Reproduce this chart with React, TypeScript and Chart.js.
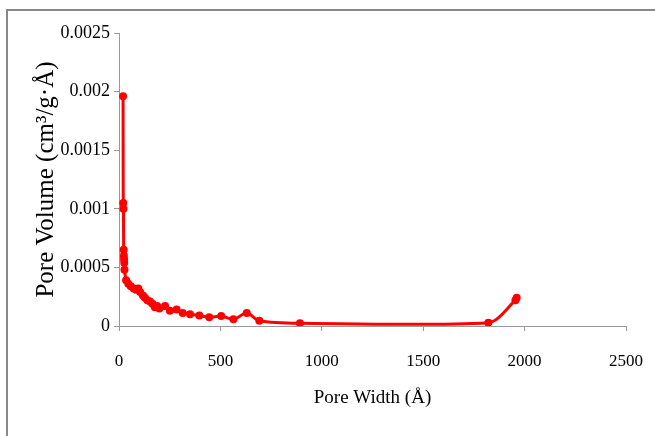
import React, { useEffect, useRef } from "react";
import { Chart, registerables } from "chart.js";

Chart.register(...registerables);

const poreWidth = [20, 21, 22, 23, 24, 25, 26, 27, 35, 46, 58, 72, 84, 95, 104, 118, 128, 140, 153, 165, 177, 188, 199, 227, 251, 284, 314, 350, 396, 445, 504, 564, 630, 692, 892, 1821, 1955, 1961];
const poreVolume = [0.00196, 0.00105, 0.001, 0.00065, 0.0006, 0.00057, 0.00054, 0.00048, 0.00039, 0.00036, 0.00034, 0.00032, 0.00031, 0.00032, 0.00029, 0.00026, 0.00024, 0.00022, 0.00021, 0.00019, 0.00016, 0.00017, 0.00015, 0.00017, 0.00013, 0.00014, 0.00011, 0.0001, 0.00009, 0.000074, 0.000085, 0.000057, 0.00011, 0.000045, 0.000023, 0.000028, 0.00022, 0.00024];

const xTitle = "Pore Width (Å)";
const yTitle = "Pore Volume (cm³/g·Å)";

export default function App() {
  const ref = useRef<HTMLCanvasElement | null>(null);

  useEffect(() => {
    if (!ref.current) return;
    const font = "'Liberation Serif', 'Times New Roman', serif";
    const chart = new Chart(ref.current, {
      type: "line",
      data: {
        datasets: [
          {
            data: poreWidth.map((x, i) => ({ x, y: poreVolume[i] })),
            borderColor: "#ff0000",
            backgroundColor: "#ff0000",
            borderWidth: 3,
            pointRadius: 4,
            pointBorderWidth: 0,
            pointBackgroundColor: "#ff0000",
            tension: 0.3,
            fill: false,
          },
        ],
      },
      options: {
        responsive: false,
        animation: false,
        layout: { padding: { top: 33, right: 29, left: 0, bottom: 0 } },
        plugins: { legend: { display: false }, tooltip: { enabled: false } },
        scales: {
          x: {
            type: "linear",
            min: 0,
            max: 2500,
            afterFit: (s: any) => {
              s.height = 110;
              s.paddingRight = 0;
              s.paddingLeft = 0;
            },
            ticks: {
              stepSize: 500,
              padding: 20,
              color: "#000",
              font: { family: font, size: 17 },
              callback: (v: any) => String(v),
            },
            grid: { drawOnChartArea: false, drawTicks: true, tickLength: 5, color: "#999" },
            border: { color: "#999", width: 1 },
            title: { display: true, text: xTitle, color: "#000", font: { family: font, size: 19 }, padding: { top: 0, bottom: 27 } },
          },
          y: {
            type: "linear",
            min: 0,
            max: 0.0025,
            afterFit: (s: any) => {
              s.width = 119;
              s.paddingTop = 0;
              s.paddingBottom = 0;
            },
            ticks: {
              stepSize: 0.0005,
              padding: 4,
              color: "#000",
              font: { family: font, size: 18 },
              callback: (v: any) => String(+Number(v).toFixed(4)),
            },
            grid: { drawOnChartArea: false, drawTicks: true, tickLength: 5, color: "#999" },
            border: { color: "#999", width: 1 },
            title: { display: true, text: yTitle, color: "#000", font: { family: font, size: 25 }, padding: { top: 31, bottom: 0 } },
          },
        },
      },
    });
    return () => chart.destroy();
  }, []);

  return (
    <div style={{ position: "fixed", left: 0, top: 0, width: 655, height: 436, background: "#fff" }}>
      <div style={{ position: "absolute", left: 6, top: 9, width: 649, height: 2, background: "#888" }} />
      <div style={{ position: "absolute", left: 6, top: 9, width: 2, height: 427, background: "#888" }} />
      <canvas ref={ref} width={655} height={436} style={{ position: "absolute", left: 0, top: 0 }} />
    </div>
  );
}
